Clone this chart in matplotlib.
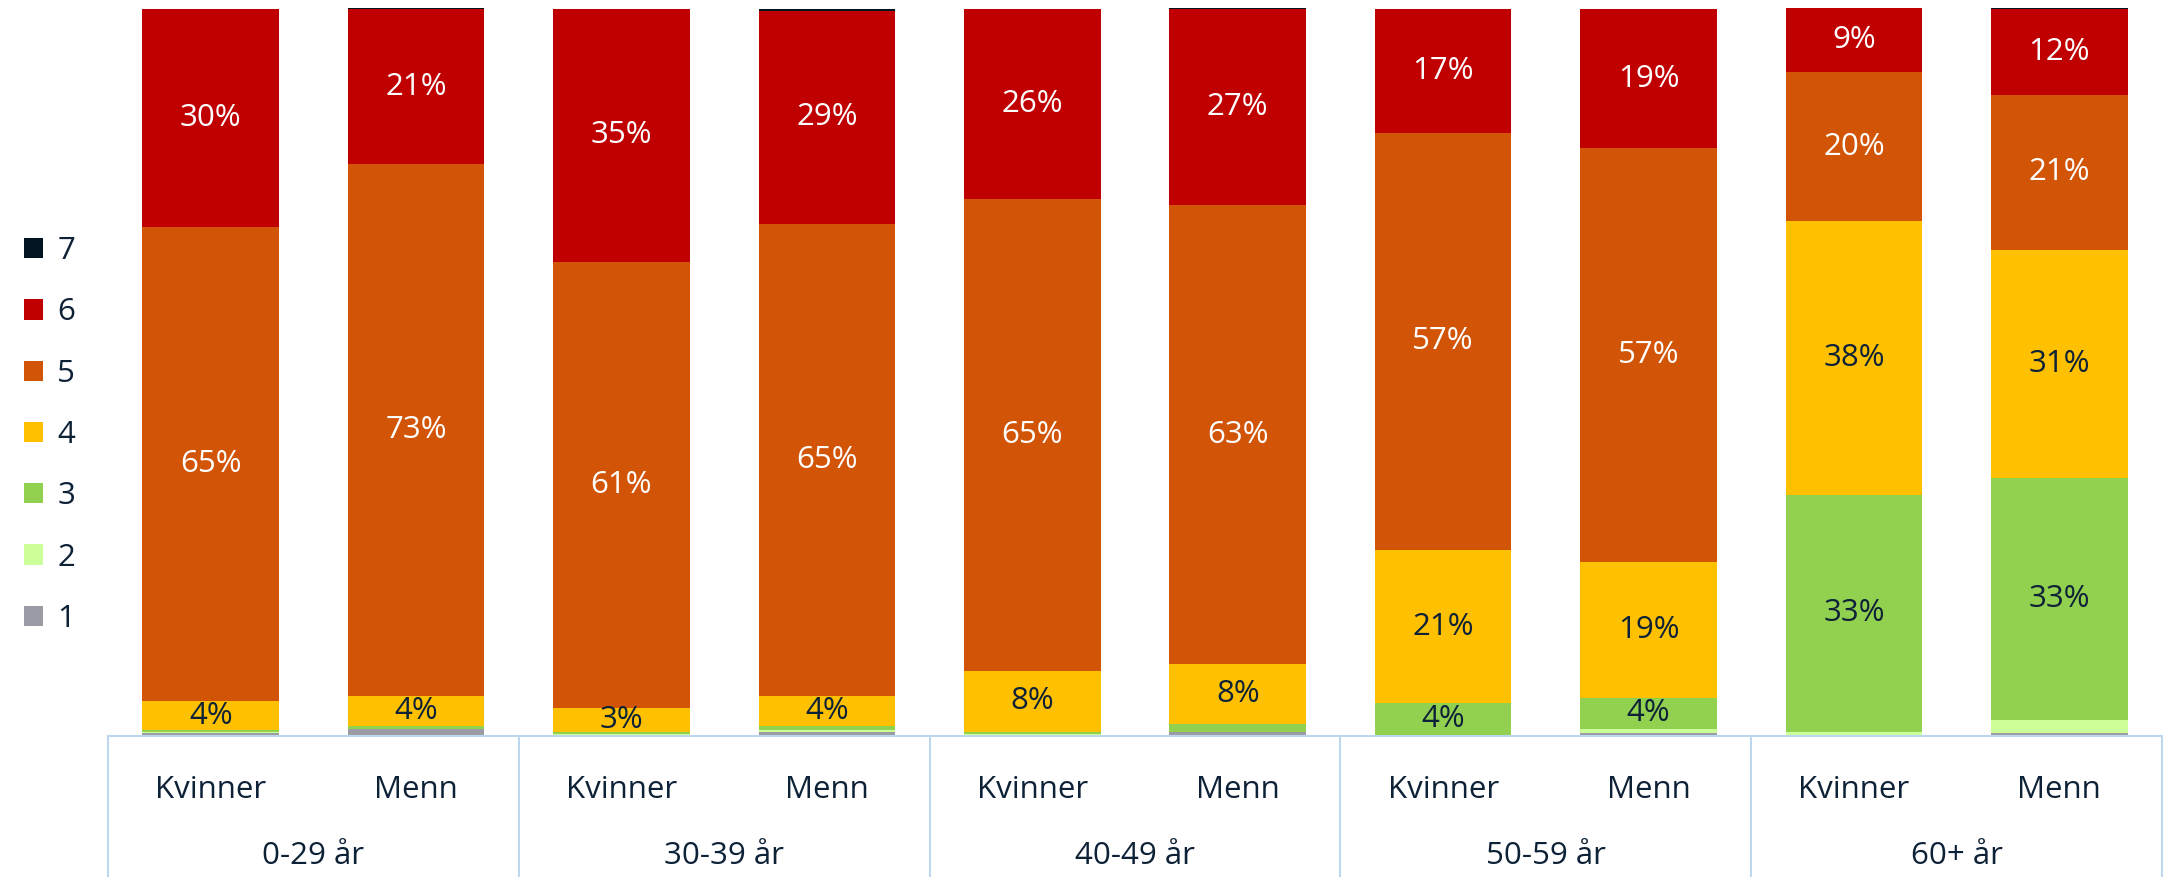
import matplotlib
matplotlib.use('Agg')
import matplotlib.pyplot as plt
from matplotlib.patches import Patch
import numpy as np

plt.rcParams['font.family'] = ['Open Sans', 'DejaVu Sans']

groups = ['0-29 år', '30-39 år', '40-49 år', '50-59 år', '60+ år']
sexes = ['Kvinner', 'Menn']
levels = ['1', '2', '3', '4', '5', '6', '7']

# andel (%) per nivå, rekkefølge: K 0-29, M 0-29, K 30-39, M 30-39, ...
lvl1 = [0.4, 0.9, 0.1, 0.6, 0.1, 0.5, 0.0, 0.4, 0.0, 0.45]
lvl2 = [0.2, 0.1, 0.2, 0.2, 0.2, 0.05, 0.2, 0.6, 0.6, 1.7]
lvl3 = [0.2, 0.4, 0.2, 0.55, 0.3, 1.1, 4.3, 4.2, 32.6, 33.3]
lvl4 = [4.0, 4.1, 3.3, 4.2, 8.3, 8.3, 21.1, 18.7, 37.6, 31.4]
lvl5 = [65.2, 73.1, 61.4, 64.8, 65.0, 63.0, 57.3, 56.9, 20.5, 21.3]
lvl6 = [30.0, 21.3, 34.8, 29.4, 26.0, 27.0, 17.1, 19.1, 8.8, 11.8]
lvl7 = [0.0, 0.15, 0.0, 0.15, 0.1, 0.1, 0.0, 0.1, 0.0, 0.1]

colors = ['#9A9BA5', '#CCFF99', '#92D050', '#FFC000', '#D25406', '#C00000', '#021420']
text_col = ['#0D2137', '#0D2137', '#0D2137', '#0D2137', 'white', 'white', 'white']
line_col = '#BDD7EE'
fs = 22.5

data = np.array([lvl1, lvl2, lvl3, lvl4, lvl5, lvl6, lvl7])
n = data.shape[1]
x = np.arange(n) + 0.5

fig = plt.figure(figsize=(21.65, 8.77), dpi=100)
ax = fig.add_axes([108 / 2165, 1 - 736 / 877, (2162 - 108) / 2165, 728 / 877])

bottom = np.zeros(n)
for i, row in enumerate(data):
    ax.bar(x, row, 0.665, bottom=bottom, color=colors[i], linewidth=0)
    for xi, b, v in zip(x, bottom, row):
        if round(v) >= 3:
            ax.text(xi, b + v / 2, '%d%%' % round(v), ha='center', va='center',
                    fontsize=fs, color=text_col[i])
    bottom += row

ax.set_xlim(0, n)
ax.set_ylim(0, bottom.max())
ax.axis('off')

# kategoriakse med bokser under søylene
tr = ax.get_xaxis_transform()
yb = -141 / 728
ax.plot([0, n], [0, 0], color=line_col, lw=1.5, transform=tr, clip_on=False)
for k in range(len(groups) + 1):
    ax.plot([2 * k, 2 * k], [0, yb], color=line_col, lw=1.5, transform=tr, clip_on=False)
for k, g in enumerate(groups):
    for j, s in enumerate(sexes):
        ax.text(2 * k + j + 0.5, -54 / 728, s, ha='center', va='center',
                fontsize=fs, color='#0D2137', transform=tr)
    ax.text(2 * k + 1, -120 / 728, g, ha='center', va='center',
            fontsize=fs, color='#0D2137', transform=tr)

handles = [Patch(facecolor=colors[i], label=levels[i]) for i in range(6, -1, -1)]
fig.legend(handles=handles, loc='center left', bbox_to_anchor=(-0.002, 1 - 435 / 877),
           frameon=False, fontsize=fs, handlelength=0.62, handleheight=0.62,
           handletextpad=0.45, labelspacing=1.0, labelcolor='#0D2137')

fig.savefig('out.png', dpi=100)
